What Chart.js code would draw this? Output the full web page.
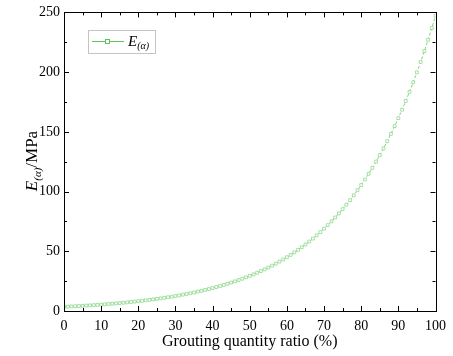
<!DOCTYPE html>
<html>
<head>
<meta charset="utf-8">
<script src="https://cdn.jsdelivr.net/npm/chart.js@4/dist/chart.umd.min.js"></script>
<style>
  html, body { margin: 0; padding: 0; background: #fff; }
  #wrap { width: 453px; height: 356px; }
</style>
</head>
<body>
<div id="wrap"><canvas id="modChart"></canvas></div>
<script>
// grouting quantity ratio (%) and modulus
const ratios = [
  0, 1, 2, 3, 4, 5, 6, 7, 8, 9, 10, 11, 12, 13, 14, 15, 16, 17, 18, 19,
  20, 21, 22, 23, 24, 25, 26, 27, 28, 29, 30, 31, 32, 33, 34, 35, 36, 37, 38, 39,
  40, 41, 42, 43, 44, 45, 46, 47, 48, 49, 50, 51, 52, 53, 54, 55, 56, 57, 58, 59,
  60, 61, 62, 63, 64, 65, 66, 67, 68, 69, 70, 71, 72, 73, 74, 75, 76, 77, 78, 79,
  80, 81, 82, 83, 84, 85, 86, 87, 88, 89, 90, 91, 92, 93, 94, 95, 96, 97, 98, 99, 100
];
const modulus = [
  3.5, 3.65, 3.81, 3.98, 4.15, 4.33, 4.52, 4.71, 4.92, 5.13,
  5.36, 5.59, 5.83, 6.09, 6.35, 6.63, 6.92, 7.22, 7.53, 7.86,
  8.2, 8.56, 8.93, 9.32, 9.72, 10.15, 10.59, 11.05, 11.53, 12.03,
  12.55, 13.1, 13.67, 14.26, 14.88, 15.53, 16.21, 16.91, 17.65, 18.41,
  19.22, 20.05, 20.92, 21.83, 22.78, 23.77, 24.81, 25.89, 27.01, 28.19,
  29.41, 30.69, 32.03, 33.42, 34.87, 36.39, 37.97, 39.62, 41.35, 43.14,
  45.02, 46.98, 49.02, 51.15, 53.38, 55.7, 58.12, 60.65, 63.29, 66.04,
  68.91, 71.91, 75.04, 78.3, 81.71, 85.26, 88.97, 92.84, 96.88, 101.09,
  105.49, 110.08, 114.87, 119.86, 125.08, 130.52, 136.2, 142.12, 148.3, 154.75,
  161.49, 168.51, 175.84, 183.49, 191.47, 199.8, 208.49, 217.56, 227.03, 236.9, 247.21
];
const xTicks = [0, 10, 20, 30, 40, 50, 60, 70, 80, 90, 100];
const yTicks = [0, 50, 100, 150, 200, 250];
const seriesName = 'E';
const seriesSub = '(α)';
const xTitle = 'Grouting quantity ratio (%)';
const yUnit = '/MPa';

const green = '#82d482';
const serif = '"Liberation Serif", "Times New Roman", serif';

// frame, inward ticks, legend and axis titles
const framePlugin = {
  id: 'frame',
  afterDraw(chart) {
    const ctx = chart.ctx;
    const a = chart.chartArea;
    const xs = chart.scales.x, ys = chart.scales.y;
    ctx.save();
    ctx.strokeStyle = '#000';
    ctx.lineWidth = 1;
    ctx.strokeRect(Math.round(a.left) + 0.5, Math.round(a.top) + 0.5,
      Math.round(a.right - a.left), Math.round(a.bottom - a.top));

    ctx.beginPath();
    for (let v = 0; v <= 100; v += 5) {
      const px = Math.round(xs.getPixelForValue(v)) + 0.5;
      const len = v % 10 === 0 ? 5 : 3;
      ctx.moveTo(px, a.bottom); ctx.lineTo(px, a.bottom - len);
      ctx.moveTo(px, a.top); ctx.lineTo(px, a.top + len);
    }
    for (let v = 0; v <= 250; v += 25) {
      const py = Math.round(ys.getPixelForValue(v)) + 0.5;
      const len = v % 50 === 0 ? 5 : 3;
      ctx.moveTo(a.left, py); ctx.lineTo(a.left + len, py);
      ctx.moveTo(a.right, py); ctx.lineTo(a.right - len, py);
    }
    ctx.stroke();

    // legend
    const lx = 88, ly = 30, lw = 67, lh = 23;
    ctx.strokeStyle = '#c4c4c4';
    ctx.strokeRect(lx + 0.5, ly + 0.5, lw, lh);
    ctx.strokeStyle = '#5cc45c';
    ctx.beginPath();
    ctx.moveTo(lx + 4, ly + 11.5); ctx.lineTo(lx + 36, ly + 11.5);
    ctx.stroke();
    ctx.fillStyle = '#fff';
    ctx.fillRect(lx + 17.5, ly + 9.5, 4, 4);
    ctx.strokeRect(lx + 17.5, ly + 9.5, 4, 4);
    ctx.fillStyle = '#000';
    ctx.textBaseline = 'alphabetic';
    ctx.textAlign = 'left';
    ctx.font = 'italic 15px ' + serif;
    ctx.fillText(seriesName, lx + 40, ly + 16);
    const ew = ctx.measureText(seriesName).width;
    ctx.font = 'italic 10px ' + serif;
    ctx.fillText(seriesSub, lx + 40 + ew, ly + 19);

    // x title
    ctx.font = '16px ' + serif;
    ctx.textAlign = 'center';
    ctx.fillText(xTitle, (a.left + a.right) / 2, 346);

    // y title, rotated
    ctx.translate(37, 161);
    ctx.rotate(-Math.PI / 2);
    ctx.font = 'italic 17px ' + serif;
    const w1 = ctx.measureText(seriesName).width;
    ctx.font = 'italic 11px ' + serif;
    const w2 = ctx.measureText(seriesSub).width;
    ctx.font = '17px ' + serif;
    const w3 = ctx.measureText(yUnit).width;
    let x0 = -(w1 + w2 + w3) / 2;
    ctx.textAlign = 'left';
    ctx.font = 'italic 17px ' + serif;
    ctx.fillText(seriesName, x0, 0);
    ctx.font = 'italic 11px ' + serif;
    ctx.fillText(seriesSub, x0 + w1, 4);
    ctx.font = '17px ' + serif;
    ctx.fillText(yUnit, x0 + w1 + w2, 0);
    ctx.restore();
  }
};

const ctx = document.getElementById('modChart').getContext('2d');
const modChart = new Chart(ctx, {
  type: 'line',
  data: {
    datasets: [{
      label: seriesName + seriesSub,
      data: ratios.map((r, i) => ({ x: r, y: modulus[i] })),
      borderColor: green,
      borderWidth: 1,
      borderDash: [3, 2],
      backgroundColor: '#fff',
      pointStyle: 'rect',
      pointRadius: 2,
      pointBorderWidth: 0.7,
      pointBorderColor: green,
      tension: 0
    }]
  },
  options: {
    responsive: true,
    maintainAspectRatio: false,
    animation: false,
    layout: { padding: { top: 10, right: 16, left: 0, bottom: 0 } },
    plugins: {
      legend: { display: false },
      tooltip: { enabled: false }
    },
    scales: {
      x: {
        type: 'linear',
        min: 0,
        max: 100,
        afterBuildTicks: s => { s.ticks = xTicks.map(v => ({ value: v })); },
        afterFit: s => { s.height = 45; },
        grid: { display: false, drawTicks: false },
        border: { display: false },
        ticks: { color: '#000', padding: 7, maxRotation: 0, font: { family: serif, size: 14 } }
      },
      y: {
        min: 0,
        max: 250,
        afterBuildTicks: s => { s.ticks = yTicks.map(v => ({ value: v })); },
        afterFit: s => { s.width = 64; },
        grid: { display: false, drawTicks: false },
        border: { display: false },
        ticks: { color: '#000', padding: 4, font: { family: serif, size: 14 } }
      }
    }
  },
  plugins: [framePlugin]
});
</script>
</body>
</html>
